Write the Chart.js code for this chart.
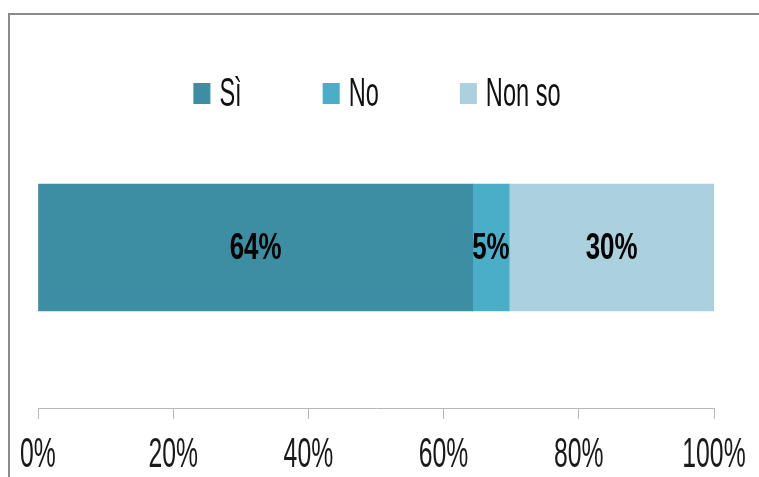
<!DOCTYPE html>
<html>
<head>
<meta charset="utf-8">
<script src="https://cdn.jsdelivr.net/npm/chart.js@4.4.1/dist/chart.umd.min.js"></script>
<style>
html,body{margin:0;padding:0;background:#fff;}
#wrap{position:relative;width:759px;height:477px;}
</style>
</head>
<body>
<div id="wrap"><canvas id="c" width="759" height="477"></canvas></div>
<script>
// ---- data ----
const categories = ["Risposte"];
const seriesNames = ["Sì", "No", "Non so"];
const valuesSi = [64.3];
const valuesNo = [5.4];
const valuesNonSo = [30.3];
const seriesColors = ["#3d8da3", "#4baec8", "#abd0de"];
const xTickValues = [0, 20, 40, 60, 80, 100];

// ---- condensed text rendering (narrow display font look) ----
const SX_REG = 0.59, SX_BOLD = 0.72;
const P = CanvasRenderingContext2D.prototype;
const oFill = P.fillText, oMeasure = P.measureText;
function sxFor(ctx){ return /bold|[6-9]00/.test(ctx.font) ? SX_BOLD : SX_REG; }
P.fillText = function(t, x, y, mw){
  const s = sxFor(this);
  this.save(); this.translate(x, y); this.scale(s, 1);
  oFill.call(this, t, 0, 0);
  this.restore();
};
P.measureText = function(t){
  const m = oMeasure.call(this, t); const s = sxFor(this);
  return {width: m.width*s,
    actualBoundingBoxAscent: m.actualBoundingBoxAscent,
    actualBoundingBoxDescent: m.actualBoundingBoxDescent,
    actualBoundingBoxLeft: m.actualBoundingBoxLeft*s,
    actualBoundingBoxRight: m.actualBoundingBoxRight*s,
    fontBoundingBoxAscent: m.fontBoundingBoxAscent,
    fontBoundingBoxDescent: m.fontBoundingBoxDescent};
};

const FONT = "'Liberation Sans', Arial, sans-serif";

// frame
const framePlugin = {
  id: 'frame',
  beforeDraw(chart){
    const ctx = chart.ctx;
    ctx.save();
    ctx.fillStyle = '#8a8a8a';
    ctx.fillRect(8, 13, 2, chart.height);
    ctx.fillRect(8, 13, chart.width, 2);
    ctx.restore();
  }
};

// legend drawn from datasets
const legendPlugin = {
  id: 'customLegend',
  afterDraw(chart){
    const ctx = chart.ctx;
    const ds = chart.data.datasets;
    const boxW = 17, boxH = 21, gap = 9, spacing = 81, fs = 40;
    ctx.save();
    ctx.font = fs + 'px ' + FONT;
    const widths = ds.map(d => boxW + gap + ctx.measureText(d.label).width);
    const total = widths.reduce((a,b)=>a+b,0) + spacing*(ds.length-1);
    let x = 377 - total/2;
    const baseY = 106;
    ds.forEach((d,i) => {
      ctx.fillStyle = d.backgroundColor;
      ctx.fillRect(x, 83, boxW, boxH);
      ctx.fillStyle = '#111';
      ctx.textAlign = 'left';
      ctx.textBaseline = 'alphabetic';
      ctx.fillText(d.label, x + boxW + gap, baseY);
      x += widths[i] + spacing;
    });
    ctx.restore();
  }
};

// value labels inside bars
const valueLabels = {
  id: 'valueLabels',
  afterDatasetsDraw(chart){
    const ctx = chart.ctx;
    ctx.save();
    ctx.font = 'bold 36px ' + FONT;
    ctx.fillStyle = '#000';
    ctx.textAlign = 'center';
    ctx.textBaseline = 'middle';
    chart.data.datasets.forEach((d, i) => {
      const meta = chart.getDatasetMeta(i);
      meta.data.forEach((el, j) => {
        const cx = (el.x + el.base) / 2;
        ctx.fillText(Math.round(d.data[j]) + '%', cx, el.y + 2);
      });
    });
    ctx.restore();
  }
};

const seriesValues = [valuesSi, valuesNo, valuesNonSo];
new Chart(document.getElementById('c'), {
  type: 'bar',
  data: {
    labels: categories,
    datasets: seriesNames.map((n, i) => ({
      label: n,
      data: seriesValues[i],
      backgroundColor: seriesColors[i],
      borderWidth: 0,
      barThickness: 127
    }))
  },
  options: {
    indexAxis: 'y',
    responsive: false,
    animation: false,
    layout: { padding: { left: 38, right: 45, top: 87, bottom: 0 } },
    plugins: { legend: { display: false }, tooltip: { enabled: false } },
    scales: {
      y: { stacked: true, display: false },
      x: {
        stacked: true,
        min: 0, max: 100,
        afterBuildTicks(scale){ scale.ticks = xTickValues.map(v => ({value: v})); },
        afterFit(scale){ scale.height = 69; scale.paddingLeft = 0; scale.paddingRight = 0; },
        ticks: {
          callback: v => v + '%',
          font: { family: FONT, size: 42, lineHeight: 1 },
          color: '#1a1a1a',
          padding: 15,
          maxRotation: 0,
          autoSkip: false
        },
        grid: { drawOnChartArea: false, drawTicks: true, tickLength: 11, color: '#b8b8b8', lineWidth: 1 },
        border: { display: true, color: '#b8b8b8', width: 1 }
      }
    }
  },
  plugins: [framePlugin, legendPlugin, valueLabels]
});
</script>
</body>
</html>
